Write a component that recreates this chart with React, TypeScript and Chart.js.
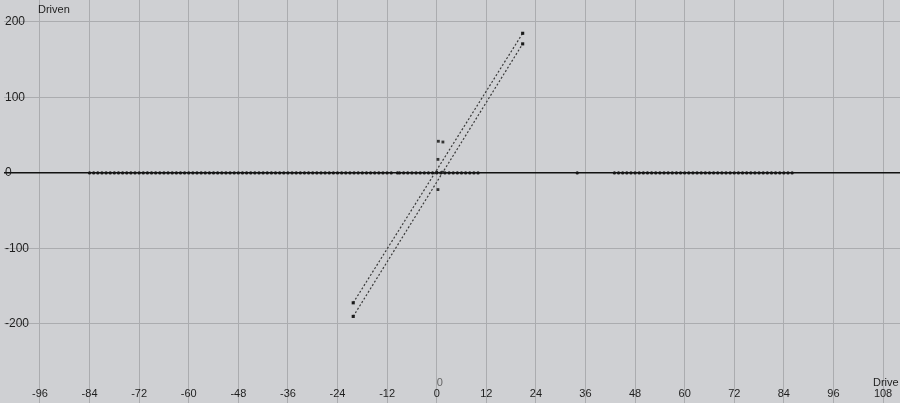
import { useEffect, useRef } from "react";
import { Chart, registerables } from "chart.js";

Chart.register(...registerables);

// Axis settings
const xTickValues = [-96, -84, -72, -60, -48, -36, -24, -12, 0, 12, 24, 36, 48, 60, 72, 84, 96, 108];
const yTickValues = [-200, -100, 0, 100, 200];
const xMin = -104.7;
const xMax = 112.1;
const yMin = -304.7;
const yMax = 229.1;

// Samples lying on Driven = 0
const flatDriveLeft = [
  -84, -83, -82, -81, -80, -79, -78, -77, -76, -75, -74, -73, -72, -71, -70, -69, -68, -67, -66, -65,
  -64, -63, -62, -61, -60, -59, -58, -57, -56, -55, -54, -53, -52, -51, -50, -49, -48, -47, -46, -45,
  -44, -43, -42, -41, -40, -39, -38, -37, -36, -35, -34, -33, -32, -31, -30, -29, -28, -27, -26, -25,
  -24, -23, -22, -21, -20, -19, -18, -17, -16, -15, -14, -13, -12, -11, -9.5, -9, -8, -7, -6, -5,
  -4, -3, -2, -1, 0, 1, 2, 3, 4, 5, 6, 7, 8, 9, 10,
];
const flatDriveRight = [
  34, 43, 44, 45, 46, 47, 48, 49, 50, 51, 52, 53, 54, 55, 56, 57, 58, 59, 60, 61, 62, 63, 64, 65,
  66, 67, 68, 69, 70, 71, 72, 73, 74, 75, 76, 77, 78, 79, 80, 81, 82, 83, 84, 85, 86,
];

// Two slanted (hysteresis) branches
const branchUpDrive = [-20.2, 20.8];
const branchUpDriven = [-172, 185];
const branchDownDrive = [-20.2, 20.8];
const branchDownDriven = [-190, 171];

// Points near the origin
const clusterDrive = [0.4, 1.5, 0.3, 0.3, 0.0, 1.4];
const clusterDriven = [42, 41, 18, -22, 1, 1];

const FONT = "'Liberation Sans', Arial, sans-serif";

const pairs = (xs: number[], ys: number[]) => xs.map((x, i) => ({ x, y: ys[i] }));

const decorPlugin = {
  id: "decor",
  beforeDraw(chart: any) {
    const { ctx, width, height } = chart;
    ctx.save();
    ctx.fillStyle = "#cfd0d3";
    ctx.fillRect(0, 0, width, height);
    ctx.restore();
  },
  afterDraw(chart: any) {
    const { ctx, scales } = chart;
    const xs = scales.x;
    ctx.save();
    ctx.fillStyle = "#1e1e1e";
    ctx.textBaseline = "middle";
    ctx.font = `11px ${FONT}`;
    ctx.textAlign = "left";
    ctx.fillText("Driven", 38, 10);
    ctx.fillText("Drive", 873, 383);
    ctx.textAlign = "center";
    ctx.fillStyle = "#666";
    ctx.fillText("0", xs.getPixelForValue(0) + 3, 383);
    ctx.restore();
  },
};

export default function App() {
  const ref = useRef<HTMLCanvasElement | null>(null);

  useEffect(() => {
    document.body.style.margin = "0";
    const canvas = ref.current;
    if (!canvas) return;
    const flatLeft = flatDriveLeft.map((x) => ({ x, y: 0 }));
    const flatRight = flatDriveRight.map((x) => ({ x, y: 0 }));

    const chart = new Chart(canvas, {
      type: "scatter",
      data: {
        datasets: [
          {
            data: [...flatLeft, ...flatRight],
            showLine: false,
            pointRadius: 1.6,
            pointBackgroundColor: "#151515",
            pointBorderWidth: 0,
          },
          {
            data: pairs(branchUpDrive, branchUpDriven),
            showLine: true,
            borderColor: "#3a3a3a",
            borderWidth: 1.2,
            borderDash: [2, 2],
            pointRadius: 2.2,
            pointStyle: "rect",
            pointBackgroundColor: "#1a1a1a",
            pointBorderWidth: 0,
          },
          {
            data: pairs(branchDownDrive, branchDownDriven),
            showLine: true,
            borderColor: "#3a3a3a",
            borderWidth: 1.2,
            borderDash: [2, 2],
            pointRadius: 2.2,
            pointStyle: "rect",
            pointBackgroundColor: "#1a1a1a",
            pointBorderWidth: 0,
          },
          {
            data: pairs(clusterDrive, clusterDriven),
            showLine: false,
            pointRadius: 2,
            pointStyle: "rect",
            pointBackgroundColor: "#333",
            pointBorderWidth: 0,
          },
        ],
      },
      options: {
        responsive: false,
        animation: false,
        layout: { padding: 0, autoPadding: false },
        plugins: { legend: { display: false }, tooltip: { enabled: false } },
        scales: {
          x: {
            type: "linear",
            position: "bottom",
            min: xMin,
            max: xMax,
            afterBuildTicks: (scale: any) => {
              scale.ticks = xTickValues.map((value) => ({ value }));
            },
            afterFit: (scale: any) => {
              scale.height = 0;
              scale.paddingLeft = 0;
              scale.paddingRight = 0;
            },
            ticks: {
              mirror: true,
              padding: 2,
              color: "#1e1e1e",
              font: { family: FONT, size: 11 },
              maxRotation: 0,
              autoSkip: false,
            },
            grid: { color: "#abacaf", lineWidth: 1, drawTicks: false },
            border: { display: false },
          },
          y: {
            type: "linear",
            position: "left",
            min: yMin,
            max: yMax,
            afterBuildTicks: (scale: any) => {
              scale.ticks = yTickValues.map((value) => ({ value }));
            },
            afterFit: (scale: any) => {
              scale.width = 4;
              scale.paddingTop = 0;
              scale.paddingBottom = 0;
            },
            ticks: {
              mirror: true,
              padding: 1,
              color: "#1e1e1e",
              font: { family: FONT, size: 12 },
            },
            grid: {
              color: (c: any) => (c.tick && c.tick.value === 0 ? "#111" : "#abacaf"),
              lineWidth: (c: any) => (c.tick && c.tick.value === 0 ? 1.6 : 1),
              drawTicks: false,
            },
            border: { display: false },
          },
        },
      },
      plugins: [decorPlugin],
    });
    return () => chart.destroy();
  }, []);

  return <canvas ref={ref} width={900} height={403} style={{ display: "block" }} />;
}
